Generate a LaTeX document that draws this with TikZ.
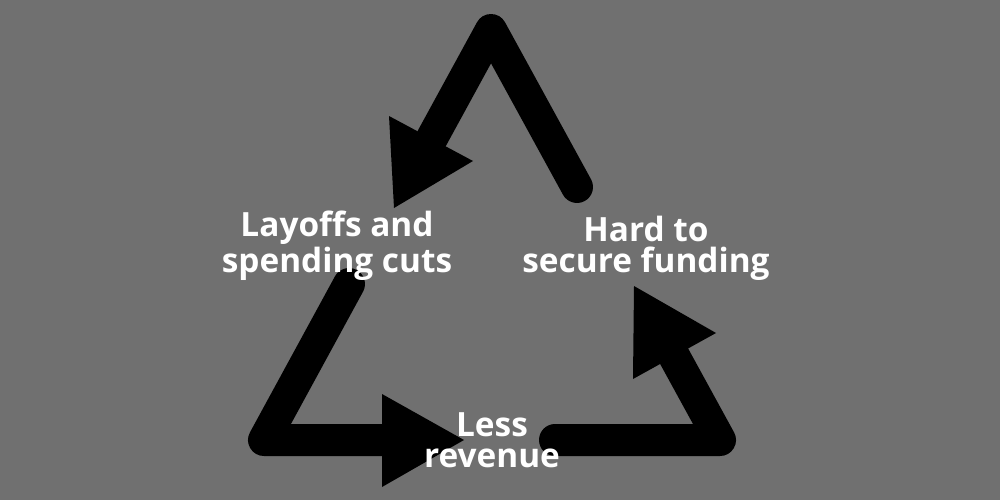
\documentclass[tikz,border=0pt]{standalone}
\usepackage{fontspec}
\setmainfont{Open Sans}
\definecolor{bggray}{HTML}{707070}
\begin{document}
\begin{tikzpicture}[x=0.02cm,y=-0.02cm,
  cyc/.style={line width=0.64cm,line cap=round,line join=round,draw=black},
  head/.style={fill=black},
  lbl/.style={text=white,font=\bfseries\fontsize{19}{17.4}\selectfont,align=center,inner sep=0pt,anchor=base}]
\fill[bggray] (0,0) rectangle (1000,500);
\useasboundingbox (0,0) rectangle (1000,500);
% coordinates
\coordinate (s1) at (577,187);
\coordinate (a1) at (491,30);
\coordinate (b1) at (432,138);
\coordinate (t1) at (394,208);
\coordinate (h1a) at (389,116);
\coordinate (h1b) at (473,161);
\coordinate (s2) at (349,284);
\coordinate (a2) at (264,440);
\coordinate (b2) at (384,440);
\coordinate (t2) at (464,440);
\coordinate (h2a) at (382,394);
\coordinate (h2b) at (382,487);
\coordinate (s3) at (555,440);
\coordinate (a3) at (720,440);
\coordinate (b3) at (674,356);
\coordinate (t3) at (634,286);
\coordinate (h3a) at (633,379);
\coordinate (h3b) at (716,333);
% arrows
\draw[cyc] (s1) -- (a1) -- (b1);
\fill[head] (t1) -- (h1a) -- (h1b) -- cycle;
\draw[cyc] (s2) -- (a2) -- (b2);
\fill[head] (t2) -- (h2a) -- (h2b) -- cycle;
\draw[cyc] (s3) -- (a3) -- (b3);
\fill[head] (t3) -- (h3a) -- (h3b) -- cycle;
% labels
\node[lbl] (lay) at (337,272) {Layoffs and\\spending cuts};
\node[lbl] (hard) at (646,272) {Hard to\\secure funding};
\node[lbl] (less) at (492,467) {Less\\revenue};
\end{tikzpicture}
\end{document}
